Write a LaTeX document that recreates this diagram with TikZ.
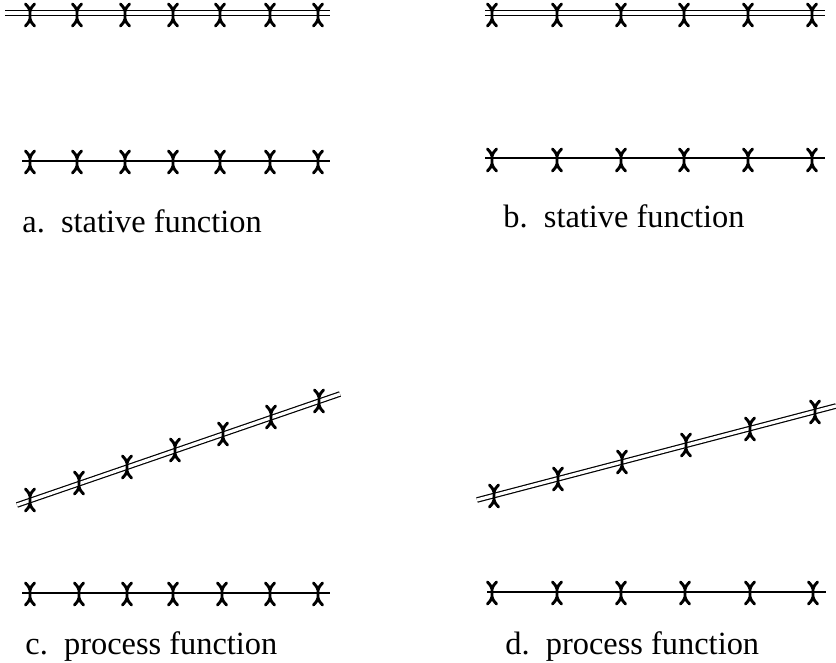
\documentclass[tikz,border=0pt]{standalone}
\usepackage{fontspec}
\setmainfont{Liberation Serif}
\usepackage{tikz}
\usetikzlibrary{positioning}

\begin{document}
\begin{tikzpicture}[
        x=0.5pt, y=-0.5pt,
        single/.style={line width=1.1pt},
        twin/.style={double, double distance=1.6pt, line width=0.6pt},
        label/.style={anchor=base west, inner sep=0pt,
            font=\fontsize{16.2}{19}\selectfont},
        pics/cross/.style={code={
            \draw[line width=1.45pt, line cap=round]
                (-4.5,-11) .. controls (-1,-7) .. (0,-4) -- (0,4)
                .. controls (-1,7) .. (-4.5,11);
            \draw[line width=1.45pt, line cap=round]
                (4.5,-11) .. controls (1,-7) .. (0,-4)
                (0,4) .. controls (1,7) .. (4.5,11);
        }}
    ]
        \useasboundingbox (0,0) rectangle (836,663);

        % a. top and bottom rows
        \coordinate (A1) at (5,13);   \coordinate (A2) at (330,13);
        \coordinate (A3) at (22,161); \coordinate (A4) at (330,161);
        \draw[twin] (A1) -- (A2);
        \draw[single] (A3) -- (A4);
        \foreach \x in {30,77,125,173,220,270,318} {
            \pic at (\x,15) {cross};
            \pic at (\x,162) {cross};
        }
        \node[label] (La) at (22,233) {a.\enspace stative function};

        % b. top and bottom rows
        \coordinate (B1) at (485,13);  \coordinate (B2) at (825,13);
        \coordinate (B3) at (485,158); \coordinate (B4) at (825,158);
        \draw[twin] (B1) -- (B2);
        \draw[single] (B3) -- (B4);
        \foreach \x in {492,557,621,684,748,812} {
            \pic at (\x,15) {cross};
            \pic at (\x,160) {cross};
        }
        \node[label] (Lb) at (503,228) {b.\enspace stative function};

        % c. rising row over a flat row
        \coordinate (C1) at (17,505);  \coordinate (C2) at (340,394);
        \coordinate (C3) at (22,593);  \coordinate (C4) at (330,593);
        \draw[twin] (C1) -- (C2);
        \draw[single] (C3) -- (C4);
        \foreach \x/\y in {30/500,79/483,127/467,175/450,223/434,271/417,319/401}
            \pic at (\x,\y) {cross};
        \foreach \x in {30,79,127,173,222,270,318}
            \pic at (\x,594) {cross};
        \node[label] (Lc) at (25,654) {c.\enspace process function};

        % d. rising row over a flat row
        \coordinate (D1) at (477,500); \coordinate (D2) at (836,406);
        \coordinate (D3) at (487,592); \coordinate (D4) at (826,592);
        \draw[twin] (D1) -- (D2);
        \draw[single] (D3) -- (D4);
        \foreach \x/\y in {494/496,558/479,622/462,686/445,750/429,815/412}
            \pic at (\x,\y) {cross};
        \foreach \x in {492,557,621,685,750,813}
            \pic at (\x,593) {cross};
        \node[label] (Ld) at (505,654) {d.\enspace process function};
    \end{tikzpicture}
\end{document}
